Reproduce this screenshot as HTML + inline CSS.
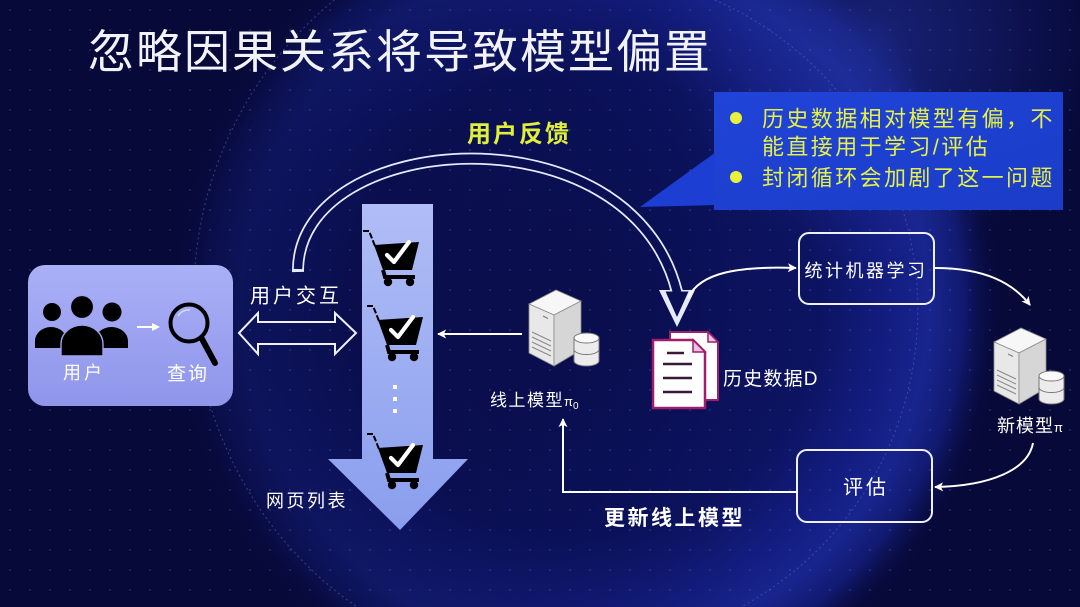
<!DOCTYPE html>
<html><head><meta charset="utf-8">
<style>
html,body{margin:0;padding:0;background:#070939;width:1080px;height:607px;overflow:hidden;}
svg{display:block;position:absolute;left:0;top:0;}
text{font-family:"Liberation Sans","Noto Sans CJK SC",sans-serif;}
</style></head>
<body>
<svg width="1080" height="607" viewBox="0 0 1080 607" xmlns="http://www.w3.org/2000/svg" overflow="hidden">
<defs>
  <radialGradient id="disc" gradientUnits="userSpaceOnUse" cx="585" cy="305" r="420">
    <stop offset="0" stop-color="#0a0f52"/>
    <stop offset="0.55" stop-color="#0c1360"/>
    <stop offset="0.72" stop-color="#131d80"/>
    <stop offset="0.82" stop-color="#18258e"/>
    <stop offset="0.9" stop-color="#111a70"/>
    <stop offset="1" stop-color="#070939" stop-opacity="0"/>
  </radialGradient>
  <linearGradient id="leftDark" x1="0" y1="0" x2="1" y2="0">
    <stop offset="0" stop-color="#070939" stop-opacity="0.9"/>
    <stop offset="0.45" stop-color="#070939" stop-opacity="0.35"/>
    <stop offset="0.7" stop-color="#070939" stop-opacity="0"/>
  </linearGradient>
  <radialGradient id="trGlow" gradientUnits="userSpaceOnUse" cx="880" cy="40" r="220">
    <stop offset="0" stop-color="#2536a8" stop-opacity="0.55"/>
    <stop offset="1" stop-color="#2536a8" stop-opacity="0"/>
  </radialGradient>
  <pattern id="dots" width="20" height="20" patternUnits="userSpaceOnUse">
    <circle cx="10" cy="10" r="0.9" fill="#6f80e0" fill-opacity="0.35"/>
  </pattern>
  <linearGradient id="userBox" x1="0" y1="0" x2="0" y2="1">
    <stop offset="0" stop-color="#aab0f6"/>
    <stop offset="1" stop-color="#8f95ea"/>
  </linearGradient>
  <linearGradient id="listGrad" x1="0" y1="0" x2="0" y2="1">
    <stop offset="0" stop-color="#b0bdf6"/>
    <stop offset="1" stop-color="#8a9eee"/>
  </linearGradient>
  <linearGradient id="callGrad" x1="0" y1="0" x2="1" y2="1">
    <stop offset="0" stop-color="#2044d8"/>
    <stop offset="1" stop-color="#1b3cc8"/>
  </linearGradient>
  <marker id="ah" viewBox="0 0 10 10" refX="9" refY="5" markerWidth="11" markerHeight="9" markerUnits="userSpaceOnUse" orient="auto">
    <path d="M0,0 L10,5 L0,10 L2.5,5 Z" fill="#ffffff"/>
  </marker>
  <mask id="arcMask" maskUnits="userSpaceOnUse" x="0" y="0" width="1080" height="607">
    <path d="M298,272 C296,130 630,105 677,292" stroke="#fff" stroke-width="12" fill="none"/>
    <polygon points="659,290 695,290 677,327" fill="#fff"/>
    <path d="M298,272 C296,130 630,105 677,292 L677.5,296" stroke="#000" stroke-width="8.5" fill="none" pathLength="100" stroke-dasharray="0 0.6 120"/>
    <polygon points="665.5,291.5 688.5,291.5 677,317" fill="#000"/>
  </mask>
  <symbol id="cart" viewBox="0 0 58 58" overflow="visible">
    <path d="M0,1 L6,1 L12,16" stroke="#000" stroke-width="2" fill="none" stroke-dasharray="6 2"/>
    <path d="M11,15 L56,12 L49,40 L20,40 Z" fill="#000"/>
    <path d="M20,40 L22,47 L52,47" stroke="#000" stroke-width="4" fill="none"/>
    <circle cx="25" cy="52" r="4.2" fill="#000"/>
    <circle cx="47" cy="52" r="4.2" fill="#000"/>
    <path d="M24,25 L31,32 L46,12" stroke="#fff" stroke-width="4.2" fill="none" stroke-linecap="round" stroke-linejoin="round"/>
  </symbol>
  <symbol id="server" viewBox="0 0 70 82" overflow="visible">
    <polygon points="0,18 27,4 52,15 25,29" fill="#f7f7f7" stroke="#8a8a8a" stroke-width="0.8"/>
    <polygon points="0,18 25,29 25,80 0,67" fill="#e8e8e8" stroke="#8a8a8a" stroke-width="0.8"/>
    <polygon points="25,29 52,15 52,64 25,80" fill="#d6d6d6" stroke="#8a8a8a" stroke-width="0.8"/>
    <g stroke="#888" stroke-width="1">
      <line x1="3" y1="46" x2="22" y2="55"/>
      <line x1="3" y1="51" x2="22" y2="60"/>
      <line x1="3" y1="56" x2="22" y2="65"/>
      <line x1="3" y1="61" x2="22" y2="70"/>
    </g>
    <line x1="14" y1="30" x2="19" y2="32.5" stroke="#777" stroke-width="1"/>
    <path d="M45,52 L45,75 A12.5,5 0 0 0 70,75 L70,52" fill="#ececec" stroke="#777" stroke-width="1"/>
    <path d="M45,63.5 A12.5,5 0 0 0 70,63.5" fill="none" stroke="#777" stroke-width="1"/>
    <ellipse cx="57.5" cy="52" rx="12.5" ry="5" fill="#fafafa" stroke="#777" stroke-width="1"/>
  </symbol>
</defs>

<!-- background -->
<rect width="1080" height="607" fill="#070939"/>
<rect width="1080" height="607" fill="url(#disc)"/>
<rect width="1080" height="607" fill="url(#trGlow)"/>
<rect width="1080" height="607" fill="url(#leftDark)"/>
<rect width="1080" height="607" fill="url(#dots)"/>
<path d="M334.5,0 A380,380 0 0 0 357,607" fill="none" stroke="#8a9cf0" stroke-opacity="0.35" stroke-width="1" stroke-dasharray="2 3"/>
<path d="M714.7,0 A338,338 0 0 1 741,607" fill="none" stroke="#8a9cf0" stroke-opacity="0.3" stroke-width="1" stroke-dasharray="2 3"/>

<!-- title -->
<text x="88" y="68" font-size="46" fill="#f2f3fa" letter-spacing="2">忽略因果关系将导致模型偏置</text>

<!-- user feedback label -->
<text x="467" y="142" font-size="24" font-weight="bold" fill="#e0ee3c" letter-spacing="2">用户反馈</text>

<!-- callout -->
<polygon points="716,152 640,207 716,205" fill="#1d3ed2"/>
<rect x="714" y="92" width="349" height="118" fill="url(#callGrad)"/>
<circle cx="736" cy="118" r="6" fill="#e8f23a"/>
<circle cx="736" cy="177" r="6" fill="#e8f23a"/>
<g font-size="22" fill="#e6f046" letter-spacing="2.4">
  <text x="762" y="126.5">历史数据相对模型有偏，不</text>
  <text x="762" y="154.5">能直接用于学习/评估</text>
  <text x="762" y="185.5">封闭循环会加剧了这一问题</text>
</g>

<!-- feedback arc (hollow) -->
<rect width="1080" height="607" fill="#e6eaff" mask="url(#arcMask)"/>

<!-- user box -->
<rect x="28" y="265" width="205" height="141" rx="17" fill="url(#userBox)"/>
<g fill="#000">
  <circle cx="52" cy="312" r="9"/>
  <path d="M35,348 L35,341 A16,14 0 0 1 67,341 L67,348 Z"/>
  <circle cx="112" cy="312" r="9.5"/>
  <path d="M95,348 L95,341 A16.5,14 0 0 1 128,341 L128,348 Z"/>
  <circle cx="82" cy="307" r="11.5" stroke="#9ea4f0" stroke-width="1.2"/>
  <path d="M61,356 L61,344 A21,19 0 0 1 103,344 L103,356 Z" stroke="#9ea4f0" stroke-width="1.4"/>
</g>
<line x1="137" y1="327" x2="153" y2="327" stroke="#fff" stroke-width="2"/>
<path d="M152,323 L160,327 L152,331 Z" fill="#fff"/>
<circle cx="189" cy="323" r="18.5" fill="none" stroke="#000" stroke-width="4"/>
<path d="M178,316 A12,12 0 0 1 190,310" fill="none" stroke="#ffffff" stroke-opacity="0.6" stroke-width="1.5"/>
<line x1="202" y1="339" x2="215" y2="363" stroke="#000" stroke-width="6" stroke-linecap="round"/>
<text x="63" y="379" font-size="18" fill="#fff" letter-spacing="3">用户</text>
<text x="167" y="380" font-size="19" fill="#fff" letter-spacing="2">查询</text>

<!-- user interaction -->
<text x="250" y="302.5" font-size="20" fill="#fff" letter-spacing="3">用户交互</text>
<path d="M239,333 L258,313 L258,322 L335,322 L335,313 L356,333 L335,354 L335,344 L258,344 L258,354 Z" fill="none" stroke="#eef0ff" stroke-width="2"/>

<!-- page list arrow -->
<path d="M362,204 L433,204 L433,459 L468,459 L400,530 L328,459 L362,459 Z" fill="url(#listGrad)"/>
<use href="#cart" x="363" y="230" width="58" height="58"/>
<use href="#cart" x="367" y="305" width="58" height="58"/>
<use href="#cart" x="367" y="433" width="58" height="58"/>
<g fill="#fff">
  <rect x="393" y="385" width="4" height="4"/>
  <rect x="393" y="397" width="4" height="4"/>
  <rect x="393" y="409" width="4" height="4"/>
</g>
<text x="266" y="507" font-size="18" fill="#fff" letter-spacing="2.5">网页列表</text>

<!-- online model server -->
<use href="#server" x="529" y="286" width="70" height="82"/>
<line x1="522" y1="334" x2="438" y2="334" stroke="#fff" stroke-width="2" marker-end="url(#ah)"/>
<text x="490" y="406" font-size="17" fill="#fff" letter-spacing="1.5">线上模型<tspan font-size="13" letter-spacing="0">π</tspan><tspan font-size="10" dy="3" letter-spacing="0">0</tspan></text>

<!-- history docs -->
<path d="M670,332 L708,332 L718,342 L718,400 L670,400 Z" fill="#fff" stroke="#a01d6c" stroke-width="2"/>
<path d="M708,332 L708,342 L718,342 Z" fill="#ecc8e4" stroke="#a01d6c" stroke-width="1.5"/>
<path d="M653,340 L693,340 L705,352 L705,408 L653,408 Z" fill="#fff" stroke="#a01d6c" stroke-width="2.5"/>
<path d="M693,340 L693,352 L705,352 Z" fill="#e8c2e0" stroke="#a01d6c" stroke-width="1.5"/>
<g stroke="#3a1838" stroke-width="2.6">
  <line x1="667" y1="353" x2="684" y2="353"/>
  <line x1="663" y1="364" x2="692" y2="364"/>
  <line x1="663" y1="378" x2="692" y2="378"/>
  <line x1="663" y1="392" x2="692" y2="392"/>
</g>
<text x="723" y="385" font-size="19" fill="#fff" letter-spacing="1.2">历史数据D</text>

<!-- stats ML box -->
<rect x="799" y="233" width="135" height="71" rx="10" fill="none" stroke="#eef0ff" stroke-width="2"/>
<text x="866" y="277" font-size="18" fill="#fff" letter-spacing="2.5" text-anchor="middle">统计机器学习</text>
<path d="M688,298 C700,272 740,266 796,268" fill="none" stroke="#fff" stroke-width="2" marker-end="url(#ah)"/>
<path d="M935,268 C985,268 1013,283 1030,305" fill="none" stroke="#fff" stroke-width="2" marker-end="url(#ah)"/>

<!-- new model -->
<use href="#server" x="994" y="324" width="70" height="82"/>
<text x="997" y="432" font-size="18" fill="#fff" letter-spacing="1">新模型<tspan font-size="13" letter-spacing="0">π</tspan></text>
<path d="M1033,443 C1028,470 990,486 935,487" fill="none" stroke="#fff" stroke-width="2" marker-end="url(#ah)"/>

<!-- evaluate box -->
<rect x="797" y="450" width="135" height="72" rx="10" fill="none" stroke="#eef0ff" stroke-width="2"/>
<text x="866" y="494" font-size="20" fill="#fff" letter-spacing="3" text-anchor="middle">评估</text>
<path d="M797,492 L563,492 L563,419" fill="none" stroke="#fff" stroke-width="2" marker-end="url(#ah)"/>
<text x="604" y="525" font-size="21" font-weight="bold" fill="#fff" letter-spacing="2.5">更新线上模型</text>
</svg>
</body></html>
